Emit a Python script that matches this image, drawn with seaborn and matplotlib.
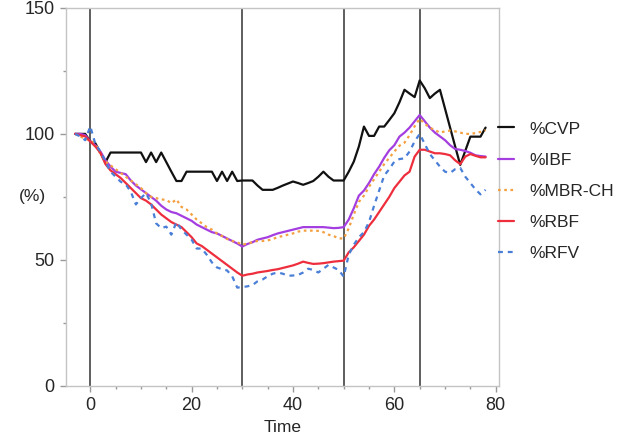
import numpy as np
import pandas as pd
import matplotlib
matplotlib.use("Agg")
import matplotlib.pyplot as plt
from matplotlib.ticker import MultipleLocator
import seaborn as sns

# time axis (min)
time = list(range(-3, 79))

cvp = [100, 100, 100, 97, 96.3, 92.5, 88.8, 92.6, 92.6, 92.6, 92.6, 92.6, 92.6, 92.6,
       88.8, 92.6, 88.8, 92.6, 88.8, 85, 81.3, 81.3, 85, 85, 85, 85, 85, 85, 81.3, 85,
       81.3, 85, 81.3, 81.5, 81.5, 81.5, 79.5, 77.8, 77.8, 77.8, 78.6, 79.5, 80.3, 81.1,
       80.5, 79.8, 80.5, 81.3, 83, 85, 83, 81.5, 81.5, 81.5, 85, 89, 95, 102.9, 99.2,
       99.2, 102.9, 102.9, 105.5, 108.2, 112.5, 117.5, 116, 114.6, 121.2, 118.1, 114.2,
       116, 117.5, 110, 102.5, 95, 87.7, 93.3, 98.9, 98.9, 98.9, 102.5]

ibf = [100, 100, 99.5, 97, 95.5, 93, 89.5, 87, 85, 84.5, 84, 81.5, 79.5, 78, 76.5, 75,
       73.5, 71.5, 70, 69, 68.5, 67.5, 66.5, 65.5, 64, 63, 62, 61, 60.5, 59.5, 58.5,
       57.5, 56.5, 55.3, 56.3, 57, 58, 58.5, 59, 59.8, 60.5, 61, 61.5, 62, 62.5, 63, 63,
       63, 63, 63, 62.8, 62.6, 62.7, 63, 66, 70.5, 75.5, 77.5, 80.5, 84, 87, 90.5, 93.5,
       95.5, 98.9, 100.5, 102.5, 105, 107.5, 105, 102.5, 100.5, 99, 97.5, 95.5, 94,
       93.7, 93.2, 92.5, 91.5, 91.2, 91]

mbr_ch = [100, 99, 98, 97.5, 96, 92, 89, 87.5, 86, 84.5, 83, 81.5, 80, 78.5, 76.5, 75,
          74.5, 74, 73.8, 72.5, 74, 71, 70, 68, 66, 64.5, 63, 62, 60.5, 59.5, 58.3, 57.5,
          57, 56, 56.5, 57, 57.5, 57.5, 57.7, 58.3, 59, 59.5, 60, 60.5, 61.2, 61.6, 61.6,
          61.6, 61.5, 61, 60, 59.5, 58.5, 58.5, 62.5, 68, 73, 75.5, 79, 82, 85, 88, 90.5,
          93, 95.3, 96.5, 99.5, 103, 106, 104, 102.5, 101.5, 100.5, 101, 101.3, 101,
          100.5, 100, 100, 100.3, 100.8, 101.5]

rbf = [100, 99.5, 99, 97, 95, 92.5, 88, 85.5, 84, 82.5, 80.5, 78.5, 76.5, 74.5, 73.5,
       72, 70, 68, 66.5, 65, 64, 63, 61, 59, 56.5, 55.5, 54, 52.5, 51, 49.5, 48, 46.5,
       45, 43.7, 44.2, 44.5, 45, 45.3, 45.6, 46, 46.3, 46.8, 47.3, 47.8, 48.5, 49.3,
       48.8, 48.4, 48.5, 48.7, 49, 49.3, 49.5, 49.7, 53, 55, 57.5, 60, 63.5, 66, 69, 72,
       75, 78.5, 81, 83.5, 85, 91, 93.7, 93.7, 93, 92.3, 92.3, 92, 91.5, 89.5, 88, 91,
       92, 91.3, 90.7, 90.7]

rfv = [100, 99, 97.5, 103, 96, 93, 89, 85, 83, 81, 80, 77, 72, 74.5, 76.5, 72.5, 64.5,
       62.6, 63.2, 60, 65, 62, 60, 58, 54.5, 54.5, 52, 49, 47, 46.3, 45.8, 43.5, 39,
       39.2, 39.5, 40, 41.5, 42.2, 43.5, 44.5, 45, 44.5, 43.7, 43.8, 44, 45, 46.5, 46,
       45, 46.5, 48, 47, 46, 43.4, 52, 56, 59, 61, 65, 71.5, 77.5, 83.5, 86, 89, 90,
       90.3, 93, 97, 100, 96, 92, 89.5, 87, 85, 84.5, 86, 86.5, 83, 80.5, 78, 76,
       77.8]

labels = ["%CVP", "%IBF", "%MBR-CH", "%RBF", "%RFV"]
event_times = [0, 30, 50, 65]

sns.set_style("white")
plt.rcParams['font.family'] = ['Liberation Sans', 'DejaVu Sans']

fig = plt.figure(figsize=(6.28, 4.38), dpi=100)
ax = fig.add_axes([0.105, 0.119, 0.690, 0.863])

styles = [
    (cvp, "#111111", "-"),
    (ibf, "#a43ee0", "-"),
    (mbr_ch, "#f4a040", (0, (1.2, 1.6))),
    (rbf, "#ee2e3c", "-"),
    (rfv, "#4a7fd8", (0, (2.2, 2.2))),
]

for (vals, col, ls), lab in zip(styles, labels):
    sns.lineplot(x=time, y=vals, ax=ax, color=col, linestyle=ls, linewidth=1.6,
                 label=lab, zorder=3)

for t in event_times:
    ax.axvline(t, color="#333333", linewidth=1.1, zorder=2)

ax.set_xlim(-4.8, 80.7)
ax.set_ylim(0, 150)
ax.xaxis.set_major_locator(MultipleLocator(20))
ax.xaxis.set_minor_locator(MultipleLocator(5))
ax.yaxis.set_major_locator(MultipleLocator(50))
ax.yaxis.set_minor_locator(MultipleLocator(25))
ax.tick_params(which="major", direction="out", length=4, width=1, color="#999999",
               labelsize=13, pad=4, bottom=True, left=True)
ax.tick_params(which="minor", direction="out", length=2.5, width=1, color="#999999",
               bottom=True, left=True)
for sp in ax.spines.values():
    sp.set_color("#c4c4c4")
    sp.set_linewidth(1)

ax.set_xlabel("Time", fontsize=12.5, labelpad=4)
ax.set_ylabel("(%)", fontsize=12.5, rotation=0, va="center", ha="center")
ax.yaxis.set_label_coords(-0.078, 0.50)

leg = ax.legend(loc="center left", bbox_to_anchor=(0.998, 0.515), frameon=False,
                fontsize=12.5, handlelength=0.9, handletextpad=0.9, labelspacing=0.92,
                borderaxespad=0, borderpad=0)

fig.savefig("out.png", dpi=100)
